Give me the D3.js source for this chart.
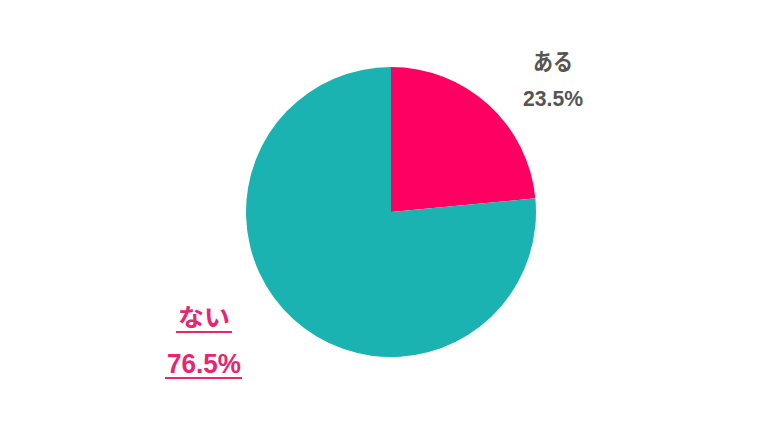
<!DOCTYPE html>
<html><head><meta charset="utf-8">
<script src="https://cdn.jsdelivr.net/npm/d3@7"></script>
<style>body{margin:0;background:#fff}svg{display:block}</style>
</head><body>
<svg id="c" width="780" height="433"></svg>
<script>
const categories = ["ある", "ない"];
const values = [23.5, 76.5];
const valueLabels = ["23.5%", "76.5%"];
const colors = ["#fe0062", "#1bb3b1"];

const svg = d3.select("#c");
const cx = 391, cy = 212, r = 145;
const pie = d3.pie().sort(null).value(d => d.v);
const arcs = pie(categories.map((c, i) => ({c, v: values[i], lab: valueLabels[i], col: colors[i]})));
const arc = d3.arc().innerRadius(0).outerRadius(r);
const g = svg.append("g").attr("transform", `translate(${cx},${cy})`);
g.selectAll("path").data(arcs).join("path").attr("d", arc).attr("fill", d => d.data.col);

const font = "'Liberation Sans', 'Noto Sans CJK JP', sans-serif";
const labelStyle = [
  {anchor: "middle", x: 553, color: "#555555", underline: false,
   lines: [{y: 70, size: 23, w: 40}, {y: 106, size: 22, w: 60}]},
  {anchor: "middle", x: 204, color: "#e8266f", underline: true,
   lines: [{y: 326, size: 24, w: 52, ul: [176, 232, 332]}, {y: 373, size: 28, w: 74, ul: [165, 242, 378]}]}
];
arcs.forEach((a, i) => {
  const p = labelStyle[i];
  [a.data.c, a.data.lab].forEach((t, j) => {
    const L = p.lines[j];
    svg.append("text").attr("x", p.x).attr("y", L.y).attr("text-anchor", p.anchor)
      .attr("font-family", font).attr("font-weight", "bold").attr("font-size", L.size)
      .attr("textLength", L.w).attr("lengthAdjust", "spacingAndGlyphs")
      .attr("fill", p.color).text(t);
    if (p.underline) {
      svg.append("line").attr("x1", L.ul[0]).attr("x2", L.ul[1])
        .attr("y1", L.ul[2]).attr("y2", L.ul[2]).attr("stroke", p.color).attr("stroke-width", 2);
    }
  });
});
</script>
</body></html>
